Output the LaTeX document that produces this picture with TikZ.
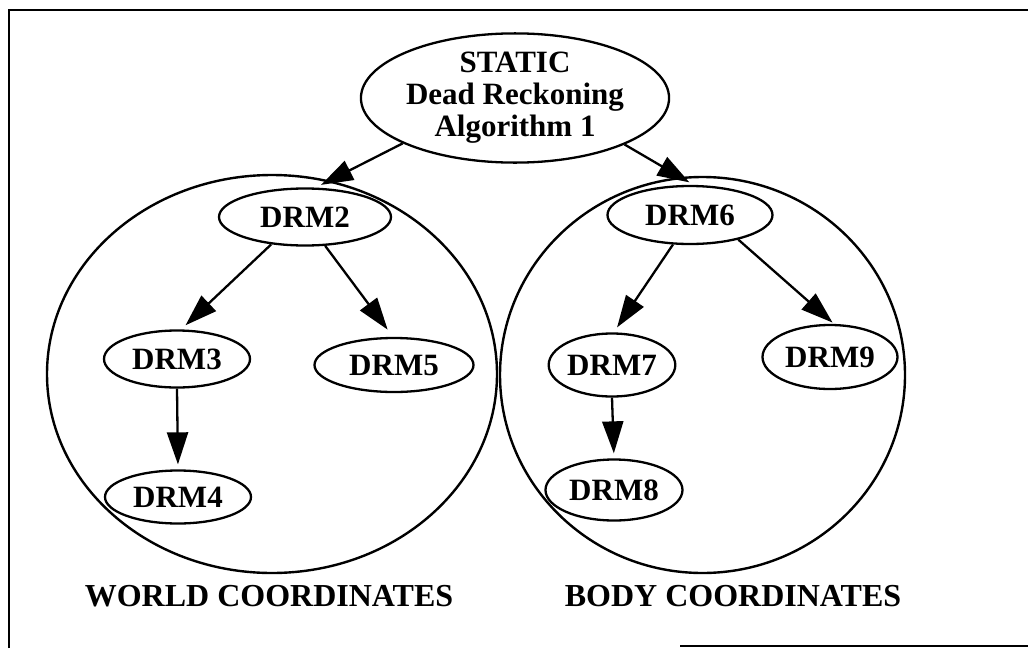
\documentclass[tikz,border=0pt]{standalone}
\usepackage{fontspec}
\setmainfont{Liberation Serif}
\usetikzlibrary{shapes.geometric,arrows.meta}
\tikzset{
  lbl/.style={font=\bfseries\fontsize{31}{32}\selectfont},
  drm/.style={draw, ellipse, line width=2.3pt, inner sep=0pt, lbl},
  zone/.style={draw, ellipse, line width=2.4pt, inner sep=0pt},
  zonecaption/.style={font=\bfseries\fontsize{32}{34}\selectfont, inner sep=0pt},
  arr/.style={line width=2.3pt, -{Triangle[length=32pt,width=21pt]}},
  frameline/.style={line width=2.4pt}
}
\begin{document}
\begin{tikzpicture}[x=1pt,y=-1pt]
\useasboundingbox (0,0) rectangle (1028,648);
% frame
\draw[frameline] (9,648) -- (9,10) -- (1028,10);
\draw[frameline] (680,646) -- (1028,646);
% zones
\node[zone, minimum width=450pt, minimum height=398pt] (world) at (272,374) {};
\node[zone, minimum width=405pt, minimum height=396pt] (body) at (702.5,375) {};
% top node
\node[drm, minimum width=306pt, minimum height=120pt, align=center] (top) at (515,98)
  {STATIC\\Dead Reckoning\\Algorithm 1};
% world nodes
\node[drm, minimum width=172pt, minimum height=57pt] (d2) at (305,217) {DRM2};
\node[drm, minimum width=146pt, minimum height=57pt] (d3) at (177,359) {DRM3};
\node[drm, minimum width=159pt, minimum height=54pt] (d5) at (394,365) {DRM5};
\node[drm, minimum width=146pt, minimum height=53pt] (d4) at (178,497) {DRM4};
% body nodes
\node[drm, minimum width=165pt, minimum height=58pt] (d6) at (690,215) {DRM6};
\node[drm, minimum width=123pt, minimum height=63pt] (d7) at (612,365) {DRM7};
\node[drm, minimum width=135pt, minimum height=64pt] (d9) at (830,357) {DRM9};
\node[drm, minimum width=137pt, minimum height=61pt] (d8) at (614,490) {DRM8};
% connectors
\draw[arr, shorten >=6pt] (top.202) -- (d2.70);
\draw[arr, shorten >=5pt] (top.-23) -- (d6.83);
\draw[arr, shorten >=6pt] (d2.219) -- (d3.82);
\draw[arr, shorten >=9pt] (d2.-55) -- (d5.92);
\draw[arr, shorten >=5pt] (d3.south) -- (d4.north);
\draw[arr, shorten >=6pt] (d6.240) -- (d7.87);
\draw[arr, shorten >=2pt] (d6.-27) -- (d9.83);
\draw[arr, shorten >=5pt] (d7.south) -- (d8.north);
% captions
\node[zonecaption] (wc) at (269,596) {WORLD COORDINATES};
\node[zonecaption] (bc) at (733,596) {BODY COORDINATES};
\end{tikzpicture}
\end{document}
